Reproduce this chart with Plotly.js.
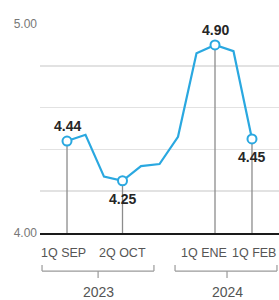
<!DOCTYPE html>
<html>
<head>
<meta charset="utf-8">
<script src="https://cdn.plot.ly/plotly-3.0.1.min.js"></script>
<style>
  html, body { margin: 0; padding: 0; background: #ffffff; }
  #chart { width: 279px; height: 300px; }
</style>
</head>
<body>
<div id="chart"></div>
<script>
// ---- data ----
const categories = ['1Q SEP', '2Q SEP', '1Q OCT', '2Q OCT', '1Q NOV', '2Q NOV',
                    '1Q DIC', '2Q DIC', '1Q ENE', '2Q ENE', '1Q FEB'];
const values = [4.44, 4.47, 4.27, 4.25, 4.32, 4.33, 4.46, 4.86, 4.90, 4.87, 4.45];
const highlighted = ['1Q SEP', '2Q OCT', '1Q ENE', '1Q FEB'];
const valueLabelSide = ['above', 'below', 'above', 'below'];
const axisLabelShift = [-4, 0, -11, 2];
const years = ['2023', '2024'];
const yTickVals = [4, 5];
const yTickText = ['4.00', '5.00'];

// ---- style / layout config ----
const BLUE = '#2aa8e0';
const GREY = '#8c8c8c';
const FONT = '"Liberation Sans", Arial, sans-serif';
const yMin = 4, yMax = 5;
// bracket spans (x in category index units) for the year groups
const brackets = [
  { x0: -1.35, x1: 4.70, xc: 1.68 },
  { x0: 5.84, x1: 11.35, xc: 8.65 }
];

const hiIdx = highlighted.map(c => categories.indexOf(c));
const hiX = hiIdx.map(i => categories[i]);
const hiY = hiIdx.map(i => values[i]);

// drop lines from highlighted points to the axis
const dropX = [], dropY = [];
hiIdx.forEach(i => { dropX.push(categories[i], categories[i], null); dropY.push(values[i], yMin, null); });

const traces = [
  { x: categories, y: values, type: 'scatter', mode: 'none',
    hoverinfo: 'skip', showlegend: false },
  { x: dropX, y: dropY, type: 'scatter', mode: 'lines',
    line: { color: GREY, width: 1.3 }, hoverinfo: 'skip', showlegend: false },
  { x: categories, y: values, type: 'scatter', mode: 'lines',
    line: { color: BLUE, width: 2.2 }, hoverinfo: 'skip', showlegend: false },
  { x: hiX, y: hiY, type: 'scatter', mode: 'markers',
    marker: { size: 9, color: '#ffffff', line: { color: BLUE, width: 2 } },
    hoverinfo: 'skip', showlegend: false }
];

const annotations = [];
hiIdx.forEach((i, k) => {
  annotations.push({
    x: i, y: values[i], xref: 'x', yref: 'y',
    text: '<b>' + values[i].toFixed(2) + '</b>', showarrow: false,
    yshift: valueLabelSide[k] === 'above' ? 15 : -18,
    font: { family: FONT, size: 14, color: '#262626' }
  });
  annotations.push({
    x: i, y: -0.096, xref: 'x', yref: 'paper',
    text: categories[i], showarrow: false, yanchor: 'middle',
    xshift: axisLabelShift[k],
    font: { family: FONT, size: 12.5, color: '#555555' }
  });
});
years.forEach((yr, k) => {
  annotations.push({
    x: brackets[k].xc, y: -0.282, xref: 'x', yref: 'paper',
    text: yr, showarrow: false, yanchor: 'middle',
    font: { family: FONT, size: 14, color: '#555555' }
  });
});

const shapes = [];
const bTop = -0.153, bBot = -0.182, bTick = -0.215;
brackets.forEach(b => {
  const st = { color: '#9a9a9a', width: 1.2 };
  shapes.push({ type: 'line', xref: 'x', yref: 'paper', x0: b.x0, x1: b.x0, y0: bTop, y1: bBot, line: st });
  shapes.push({ type: 'line', xref: 'x', yref: 'paper', x0: b.x1, x1: b.x1, y0: bTop, y1: bBot, line: st });
  shapes.push({ type: 'line', xref: 'x', yref: 'paper', x0: b.x0, x1: b.x1, y0: bBot, y1: bBot, line: st });
  shapes.push({ type: 'line', xref: 'x', yref: 'paper', x0: b.xc, x1: b.xc, y0: bBot, y1: bTick, line: st });
});

const layout = {
  width: 279, height: 300,
  margin: { l: 40, r: 0, t: 24, b: 67 },
  paper_bgcolor: '#ffffff', plot_bgcolor: '#ffffff',
  showlegend: false,
  xaxis: {
    type: 'category', categoryorder: 'array', categoryarray: categories,
    range: [-1.46, 11.46],
    showgrid: false, zeroline: false,
    showline: true, linecolor: '#1a1a1a', linewidth: 2,
    showticklabels: false, ticks: '', fixedrange: true
  },
  yaxis: {
    range: [yMin, yMax], tickvals: yTickVals, ticktext: yTickText,
    showgrid: true, gridcolor: '#e2e2e2', gridwidth: 1.5,
    minor: { tick0: 4, dtick: 0.2, showgrid: true, gridcolor: '#e2e2e2', gridwidth: 1.5, ticks: '' },
    zeroline: false, showline: false, ticks: '',
    ticklabelstandoff: 2,
    tickfont: { family: FONT, size: 12, color: '#777777' },
    fixedrange: true
  },
  annotations: annotations,
  shapes: shapes
};

Plotly.newPlot('chart', traces, layout, { displayModeBar: false, staticPlot: true });
</script>
</body>
</html>
